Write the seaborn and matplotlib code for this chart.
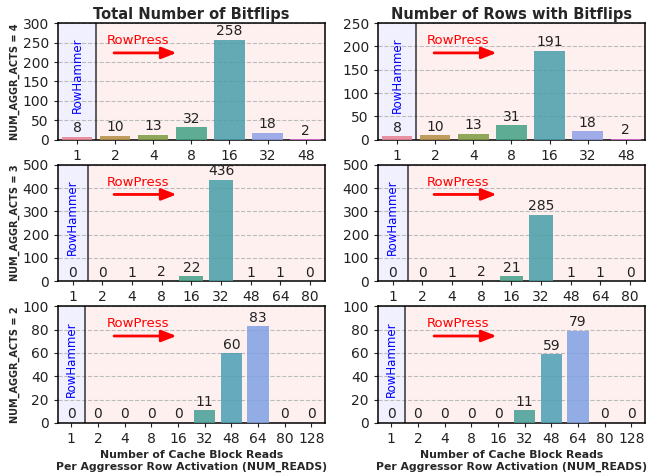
import matplotlib
matplotlib.use("Agg")
import matplotlib.pyplot as plt
import matplotlib.transforms as mtransforms
import seaborn as sns
import pandas as pd

# NUM_READS categories per NUM_AGGR_ACTS setting
reads_4 = ["1", "2", "4", "8", "16", "32", "48"]
reads_3 = ["1", "2", "4", "8", "16", "32", "48", "64", "80"]
reads_2 = ["1", "2", "4", "8", "16", "32", "48", "64", "80", "128"]

# Total number of bitflips
total_4 = [8, 10, 13, 32, 258, 18, 2]
total_3 = [0, 0, 1, 2, 22, 436, 1, 1, 0]
total_2 = [0, 0, 0, 0, 0, 11, 60, 83, 0, 0]

# Number of rows with bitflips
rows_4 = [8, 10, 13, 31, 191, 18, 2]
rows_3 = [0, 0, 1, 2, 21, 285, 1, 1, 0]
rows_2 = [0, 0, 0, 0, 0, 11, 59, 79, 0, 0]

acts = [4, 3, 2]
titles = ["Total Number of Bitflips", "Number of Rows with Bitflips"]
ylims = [[300, 250], [500, 500], [100, 100]]
ysteps = [[50, 50], [100, 100], [20, 20]]

panels = [
    [(reads_4, total_4), (reads_4, rows_4)],
    [(reads_3, total_3), (reads_3, rows_3)],
    [(reads_2, total_2), (reads_2, rows_2)],
]

sns.set_style("ticks")
plt.rcParams["font.family"] = ["DejaVu Sans"]

fig, axes = plt.subplots(3, 2, figsize=(6.58, 4.73), dpi=100)
fig.subplots_adjust(left=0.088, right=0.980, top=0.951, bottom=0.106,
                    hspace=0.214, wspace=0.199)

for r in range(3):
    for c in range(2):
        ax = axes[r, c]
        cats, vals = panels[r][c]
        df = pd.DataFrame({"reads": cats, "value": vals})
        ax.set_facecolor("#fff0f0")
        ax.axvspan(-0.5, 0.5, color="#f0f0ff", zorder=0)
        ax.axvline(0.5, color="#333333", linewidth=1.1, zorder=1)
        sns.barplot(data=df, x="reads", y="value", hue="reads",
                    order=cats, hue_order=cats,
                    palette=sns.color_palette("husl", len(cats)),
                    saturation=0.75, alpha=0.85, linewidth=0,
                    legend=False, ax=ax, zorder=3)
        for cont in ax.containers:
            ax.bar_label(cont, fontsize=10, padding=1, color="#222222")
        ax.set_xlim(-0.5, len(cats) - 0.5)
        ax.set_ylim(0, ylims[r][c])
        ax.set_yticks(range(0, ylims[r][c] + 1, ysteps[r][c]))
        ax.yaxis.grid(True, linestyle="--", color="#bbbbbb", linewidth=0.8, zorder=1)
        ax.set_axisbelow(True)
        ax.tick_params(labelsize=10, length=3, colors="#222222")
        for s in ax.spines.values():
            s.set_visible(True)
            s.set_color("black")
            s.set_linewidth(1.1)

        trans = mtransforms.blended_transform_factory(ax.transData, ax.transAxes)
        ax.text(0, 0.55, "RowHammer", rotation=90, color="blue",
                fontsize=8.5, ha="center", va="center", transform=trans, zorder=4)
        ax.text(0.30, 0.85, "RowPress", color="red", fontsize=9.5,
                ha="center", va="center", transform=ax.transAxes, zorder=4)
        ax.annotate("", xy=(0.455, 0.745), xytext=(0.20, 0.745),
                    xycoords="axes fraction", textcoords="axes fraction",
                    arrowprops=dict(arrowstyle="-|>,head_length=0.9,head_width=0.35",
                                    color="red", linewidth=2), zorder=4)

        if c == 0:
            ax.set_ylabel(f"NUM_AGGR_ACTS = {acts[r]}", fontsize=7,
                          fontweight="bold", labelpad=2)
        else:
            ax.set_ylabel("")
        if r == 0:
            ax.set_title(titles[c], fontsize=10.5, fontweight="bold", pad=3)
        if r == 2:
            ax.set_xlabel("Number of Cache Block Reads\nPer Aggressor Row Activation (NUM_READS)",
                          fontsize=7.8, fontweight="bold", labelpad=3)
        else:
            ax.set_xlabel("")

fig.savefig("out.png", dpi=100)
